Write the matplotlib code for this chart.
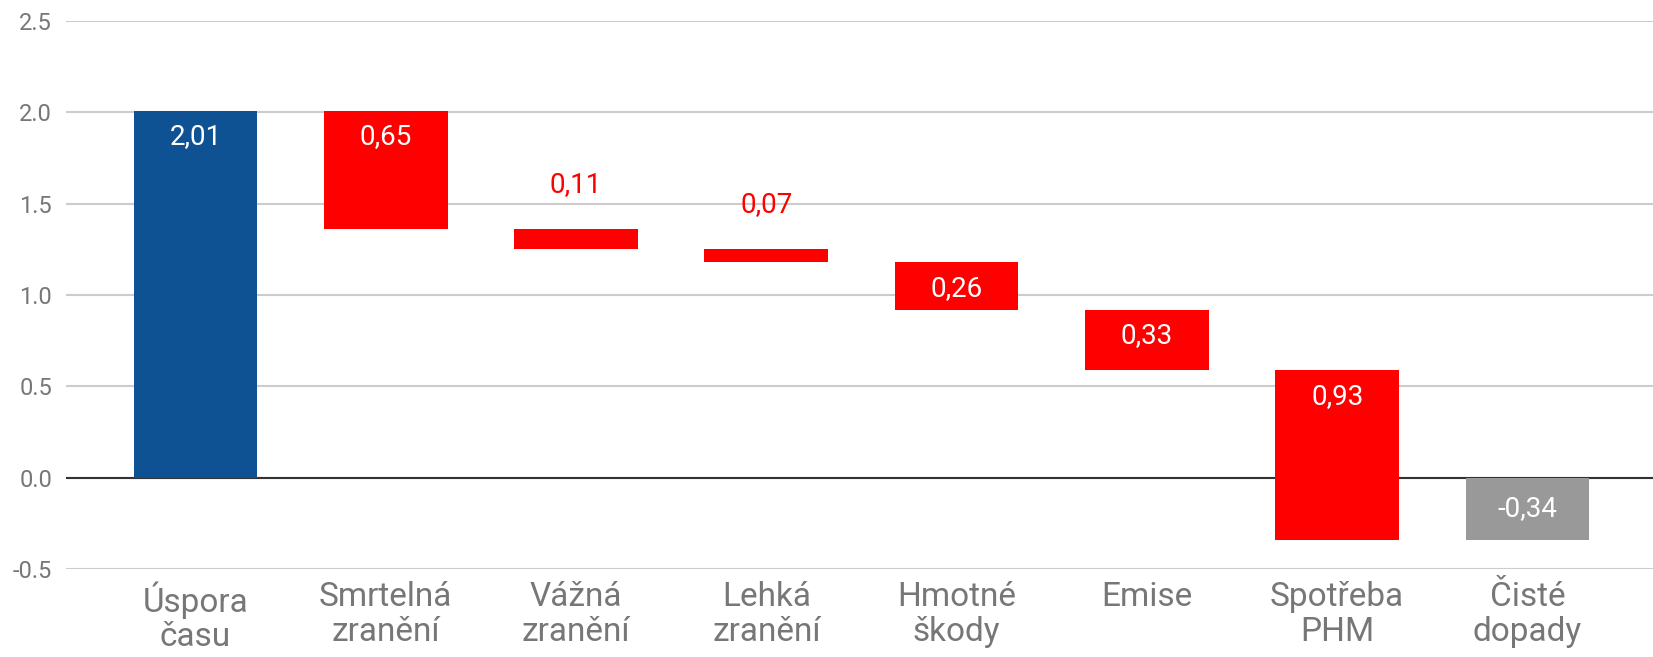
import matplotlib
matplotlib.use("Agg")
import matplotlib.pyplot as plt

# Vodopádový graf: přínosy a náklady (mld. Kč)

kategorie = ["Úspora\nčasu", "Smrtelná\nzranění", "Vážná\nzranění", "Lehká\nzranění",
             "Hmotné\nškody", "Emise", "Spotřeba\nPHM", "Čisté\ndopady"]
zmeny = [2.01, -0.65, -0.11, -0.07, -0.26, -0.33, -0.93]
popisky = ["2,01", "0,65", "0,11", "0,07", "0,26", "0,33", "0,93", "-0,34"]

MODRA = "#0f5294"
CERVENA = "#ff0000"
SEDA = "#999999"

plt.rcParams["font.family"] = ["Roboto", "DejaVu Sans"]

fig = plt.figure(figsize=(16.53, 6.57), dpi=100)
ax = fig.add_axes([0.040, 0.134, 0.960, 0.834])

# Výpočet začátků a konců sloupců
spodky, vysky, barvy = [], [], []
stav = 0.0
for i, z in enumerate(zmeny):
    if i == 0:
        spodky.append(0.0)
        vysky.append(z)
        barvy.append(MODRA)
    else:
        spodky.append(stav + z)
        vysky.append(-z)
        barvy.append(CERVENA)
    stav += z
cisty = round(stav, 2)
spodky.append(cisty)
vysky.append(-cisty)
barvy.append(SEDA)

x = list(range(len(kategorie)))
ax.bar(x, vysky, bottom=spodky, width=0.65, color=barvy, zorder=3)

for i in x:
    vrch = spodky[i] + vysky[i]
    if i == len(x) - 1:
        ax.text(i, cisty / 2, popisky[i], ha="center", va="center",
                color="white", fontsize=20, zorder=4)
    elif vysky[i] < 0.15:
        ax.annotate(popisky[i], (i, vrch), xytext=(0, 32), textcoords="offset points",
                    ha="center", va="center", color=CERVENA, fontsize=20)
    else:
        ax.annotate(popisky[i], (i, vrch), xytext=(0, -19), textcoords="offset points",
                    ha="center", va="center", color="white", fontsize=20, zorder=4)

ax.set_xlim(-0.68, 7.66)
ax.set_ylim(-0.5, 2.5)
ax.set_yticks([-0.5, 0.0, 0.5, 1.0, 1.5, 2.0, 2.5])
ax.set_yticklabels(["-0.5", "0.0", "0.5", "1.0", "1.5", "2.0", "2.5"])
ax.set_xticks(x)
ax.set_xticklabels(kategorie, linespacing=1.1)

ax.grid(axis="y", color="#cccccc", linewidth=1.5, zorder=0)
ax.axhline(0, color="#333333", linewidth=1.5, zorder=2)
for s in ax.spines.values():
    s.set_visible(False)

ax.tick_params(axis="y", length=0, pad=10, labelsize=17, labelcolor="#777777")
ax.tick_params(axis="x", length=0, pad=9, labelsize=24, labelcolor="#777777")

fig.savefig("out.png", dpi=100)
